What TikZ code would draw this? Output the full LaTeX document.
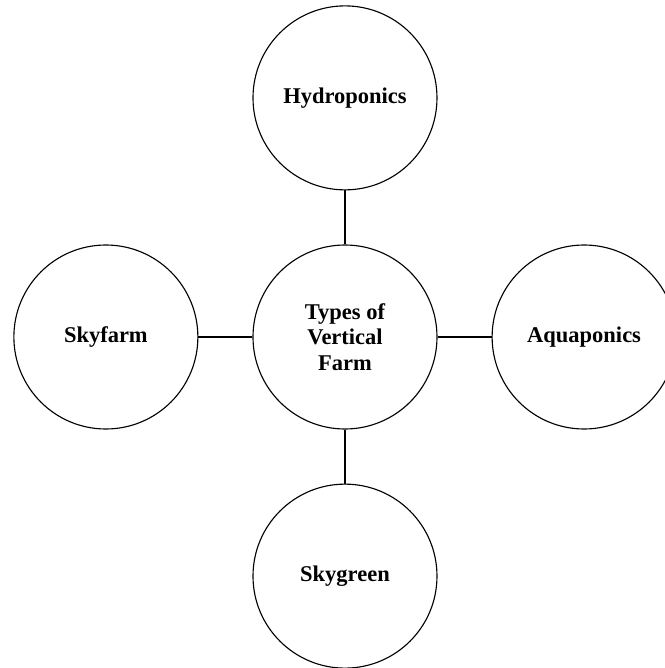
\documentclass[tikz,border=0pt]{standalone}
\usepackage{fontspec}
\setmainfont{Liberation Serif}
\usetikzlibrary{
    positioning
}

\tikzset{
  farmtype/.style={
    draw,
    circle,
    line width=0.8pt,
    minimum size=4.6cm,
    align=center,
    font=\bfseries\fontsize{16}{18}\selectfont
  }
}

\begin{document}
\begin{tikzpicture}[node distance=1.35cm]

  \useasboundingbox (-8.625,-8.275) rectangle (8.0,8.425);

  \node[farmtype] (types) at (0,0) {Types of\\Vertical\\Farm};

  % outer circles {{{
  \node[farmtype, above=of types] (hydro) {Hydroponics};
  \node[farmtype, left=of types] (skyfarm) {Skyfarm};
  \node[farmtype, right=of types] (aqua) {Aquaponics};
  \node[farmtype, below=of types] (skygreen) {Skygreen};
  % }}}

  % links {{{
  \draw[line width=0.8pt] (types) -- (hydro);
  \draw[line width=0.8pt] (types) -- (skyfarm);
  \draw[line width=0.8pt] (types) -- (aqua);
  \draw[line width=0.8pt] (types) -- (skygreen);
  % }}}

\end{tikzpicture}
\end{document}
